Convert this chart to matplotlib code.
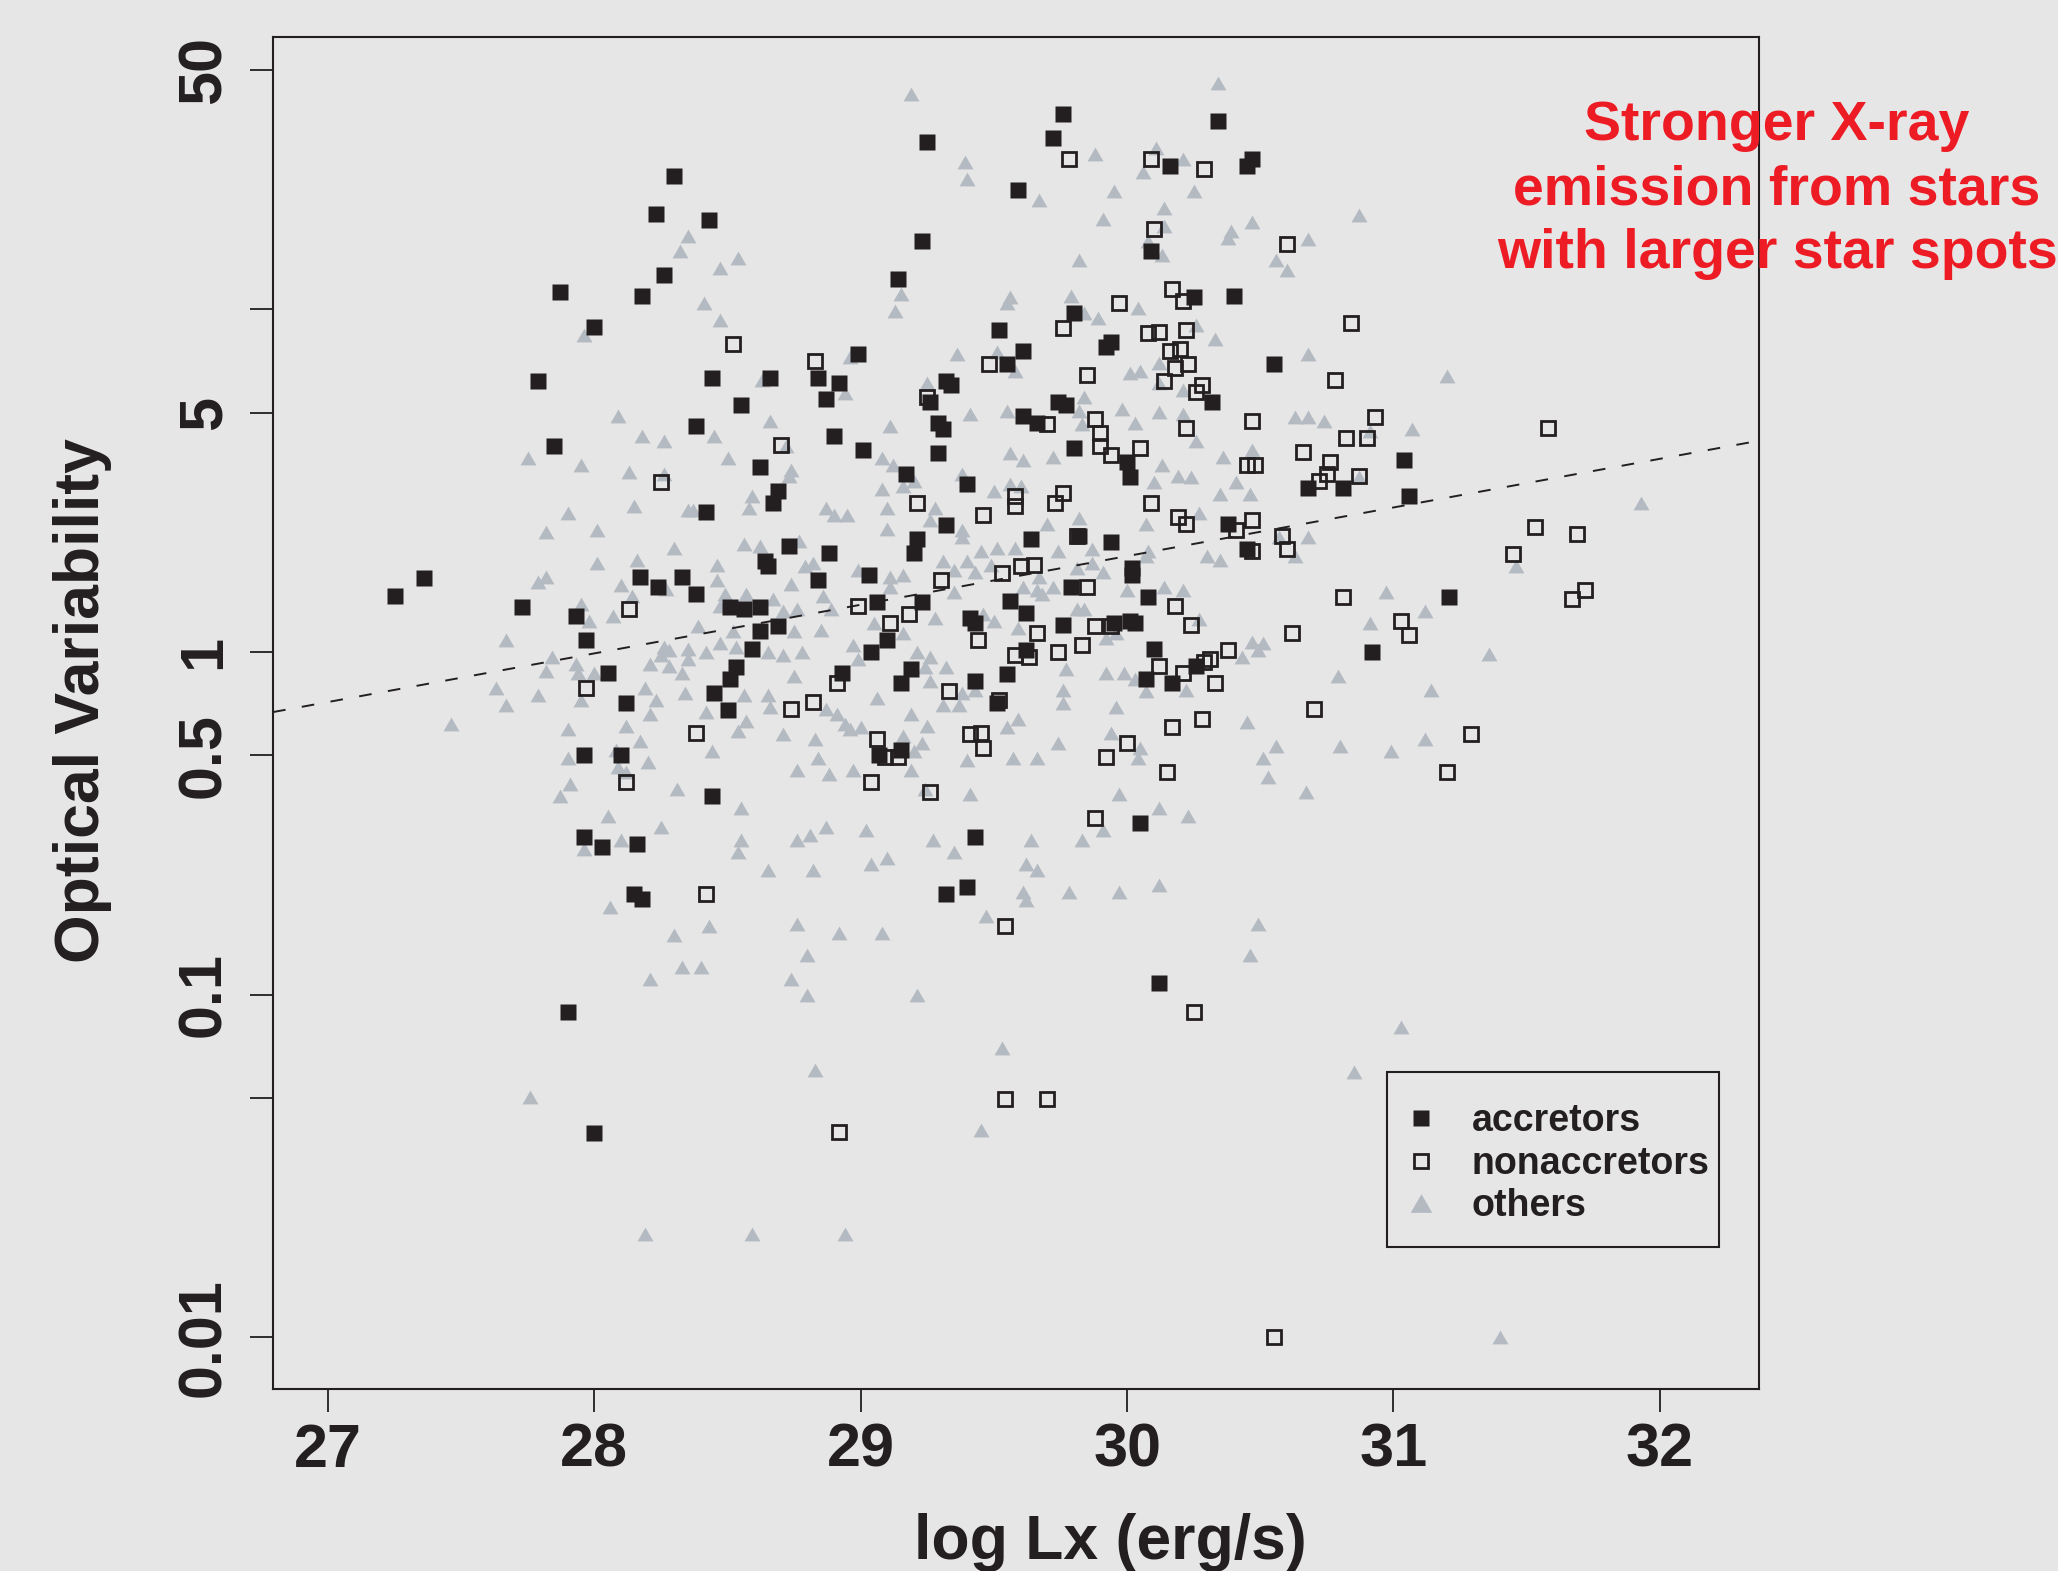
import numpy as np
import matplotlib
matplotlib.use('Agg')
import matplotlib.pyplot as plt
from matplotlib.lines import Line2D
from matplotlib.patches import Rectangle
from matplotlib.ticker import NullLocator

plt.rcParams['font.family'] = ['Liberation Sans', 'DejaVu Sans']
plt.rcParams['font.weight'] = 'bold'

BG = '#e6e6e6'
INK = '#231f20'
GREY = '#b4bac2'
RED = '#ed1c24'

# points as (log Lx, log10 of optical variability)
accretors = [
    (28.30, 1.39), (28.23, 1.28), (28.43, 1.26), (28.26, 1.10), (27.87, 1.05), (28.18, 1.04),
    (28.00, 0.95), (27.79, 0.79), (28.44, 0.80), (28.55, 0.72), (28.38, 0.66), (27.85, 0.60),
    (28.62, 0.54), (28.66, 0.80), (28.69, 0.47), (28.67, 0.435),
    (29.76, 1.57), (29.72, 1.50), (29.25, 1.49), (30.34, 1.55), (30.47, 1.44), (30.45, 1.42),
    (30.16, 1.42), (29.59, 1.35), (29.23, 1.20), (30.09, 1.17), (29.14, 1.09), (30.25, 1.035),
    (30.40, 1.04), (29.80, 0.99), (29.52, 0.94), (29.61, 0.88), (29.94, 0.905), (29.92, 0.89),
    (28.99, 0.87), (29.55, 0.84), (30.55, 0.84), (28.84, 0.80), (28.92, 0.785), (28.87, 0.74),
    (29.32, 0.79), (29.34, 0.78), (29.26, 0.73), (29.29, 0.67), (29.31, 0.65), (29.74, 0.73),
    (29.77, 0.72), (29.61, 0.69), (29.66, 0.67), (28.90, 0.63), (29.01, 0.59), (29.29, 0.58),
    (29.17, 0.52), (29.40, 0.49), (29.80, 0.595), (30.00, 0.555), (30.01, 0.51), (30.32, 0.73),
    (31.04, 0.56), (30.68, 0.48), (30.81, 0.48), (31.06, 0.455), (31.21, 0.16), (30.92, 0.00),
    (27.36, 0.215), (27.25, 0.165), (27.73, 0.13), (27.93, 0.105), (27.97, 0.035), (28.17, 0.22),
    (28.24, 0.19), (28.33, 0.22), (28.38, 0.17), (28.42, 0.41), (28.51, 0.13), (28.56, 0.127),
    (28.62, 0.13), (28.64, 0.265), (28.65, 0.25), (28.62, 0.06), (28.59, 0.01), (28.53, -0.045),
    (28.51, -0.08), (28.45, -0.12), (28.50, -0.17), (28.05, -0.06), (28.12, -0.15), (28.10, -0.30),
    (27.96, -0.30), (28.44, -0.42), (27.96, -0.54), (28.03, -0.57), (28.16, -0.56), (28.15, -0.705),
    (28.18, -0.72),
    (28.73, 0.31), (28.88, 0.29), (28.84, 0.21), (29.03, 0.225), (28.69, 0.075), (29.32, 0.37),
    (29.21, 0.33), (29.20, 0.29), (29.06, 0.145), (29.23, 0.145), (29.10, 0.035), (29.04, 0.00),
    (28.93, -0.06), (29.19, -0.05), (29.15, -0.09), (29.41, 0.10), (29.43, 0.085), (29.56, 0.15),
    (29.62, 0.115), (29.64, 0.33), (29.82, 0.34), (29.94, 0.32), (29.79, 0.19), (29.76, 0.08),
    (30.02, 0.245), (30.02, 0.225), (30.08, 0.16), (29.95, 0.085), (30.01, 0.09), (30.03, 0.085),
    (29.62, 0.005), (29.55, -0.065), (29.43, -0.085), (29.51, -0.15), (30.10, 0.01), (30.07, -0.08),
    (30.17, -0.09), (30.26, -0.04), (30.38, 0.375), (30.45, 0.30), (29.07, -0.30), (29.15, -0.285),
    (29.43, -0.54), (30.05, -0.50), (29.32, -0.705), (29.40, -0.685),
    (27.90, -1.05), (28.00, -1.405), (30.12, -0.965),
]

nonaccretors = [
    (28.52, 0.90), (28.25, 0.495),
    (29.78, 1.44), (30.09, 1.44), (30.29, 1.41), (30.10, 1.235), (30.17, 1.06), (30.21, 1.025),
    (29.97, 1.02), (29.76, 0.945), (30.08, 0.93), (30.12, 0.935), (30.22, 0.94), (30.16, 0.88),
    (30.20, 0.885), (30.18, 0.83), (30.23, 0.84), (30.14, 0.79), (30.28, 0.78), (30.26, 0.76),
    (28.83, 0.85), (29.48, 0.84), (29.85, 0.81), (29.25, 0.745), (29.70, 0.665), (29.88, 0.68),
    (29.90, 0.64), (29.90, 0.60), (29.94, 0.575), (30.05, 0.595), (30.22, 0.655), (30.47, 0.675),
    (30.45, 0.545), (30.48, 0.545), (28.70, 0.605),
    (30.60, 1.19), (30.84, 0.96), (30.78, 0.795), (30.93, 0.685), (30.82, 0.625), (30.90, 0.625),
    (30.66, 0.585), (30.76, 0.555), (30.75, 0.52), (30.72, 0.50), (30.87, 0.515), (31.58, 0.655),
    (30.58, 0.34), (30.60, 0.30), (31.53, 0.365), (31.69, 0.345), (31.45, 0.285), (31.72, 0.18),
    (31.67, 0.155), (30.81, 0.16), (31.03, 0.09), (31.06, 0.05), (30.62, 0.055), (30.70, -0.165),
    (31.29, -0.24), (31.20, -0.35),
    (28.13, 0.125), (27.97, -0.105), (28.38, -0.235), (28.12, -0.38), (28.42, -0.705),
    (29.21, 0.435), (29.46, 0.40), (29.58, 0.455), (29.58, 0.425), (29.76, 0.465), (29.73, 0.435),
    (30.09, 0.435), (30.19, 0.395), (30.22, 0.375), (30.47, 0.385), (30.41, 0.355), (30.47, 0.295),
    (29.81, 0.34), (29.30, 0.21), (29.53, 0.23), (29.60, 0.25), (29.65, 0.255), (29.85, 0.19),
    (28.99, 0.135), (29.11, 0.085), (29.18, 0.11), (29.44, 0.035), (29.66, 0.055), (29.58, -0.01),
    (29.63, -0.015), (29.74, 0.00), (29.83, 0.02), (29.88, 0.075), (29.94, 0.075), (30.18, 0.135),
    (30.24, 0.08), (30.12, -0.04), (30.21, -0.06), (30.29, -0.03), (30.31, -0.02), (30.38, 0.005),
    (30.33, -0.09), (28.91, -0.09), (28.74, -0.165), (28.82, -0.145), (29.33, -0.115), (29.52, -0.14),
    (29.41, -0.24), (29.45, -0.235), (29.46, -0.28), (29.06, -0.255), (29.09, -0.305), (29.14, -0.305),
    (29.04, -0.38), (29.26, -0.41), (30.17, -0.22), (30.28, -0.195), (30.00, -0.265), (29.92, -0.305),
    (30.15, -0.35), (29.88, -0.485), (29.54, -0.80),
    (30.25, -1.05), (29.54, -1.305), (29.70, -1.305), (28.92, -1.40), (30.55, -2.00),
]

others = [
    (28.35, 1.215), (28.32, 1.17), (28.54, 1.15), (28.47, 1.12), (28.41, 1.02), (28.47, 0.97),
    (27.96, 0.925), (28.09, 0.69), (28.18, 0.63), (28.26, 0.615), (28.45, 0.63), (28.50, 0.565),
    (27.75, 0.565), (27.95, 0.545), (28.13, 0.525), (28.26, 0.52), (28.63, 0.795), (28.66, 0.675),
    (28.59, 0.455),
    (29.19, 1.63), (30.34, 1.66), (29.39, 1.43), (29.40, 1.38), (29.67, 1.32), (29.88, 1.455),
    (30.11, 1.47), (30.21, 1.44), (30.06, 1.40), (29.95, 1.345), (30.25, 1.345), (30.14, 1.295),
    (29.91, 1.265), (30.14, 1.245), (30.39, 1.23), (30.38, 1.21), (30.47, 1.255), (30.08, 1.20),
    (30.13, 1.16), (29.82, 1.145), (29.15, 1.045), (29.13, 0.995), (29.56, 1.035), (29.55, 1.02),
    (29.79, 1.04), (29.84, 0.99), (29.89, 0.975), (30.04, 1.005), (30.26, 0.955), (30.33, 0.915),
    (30.12, 0.845), (30.01, 0.815), (30.05, 0.82), (30.12, 0.785), (30.21, 0.765), (29.36, 0.87),
    (29.51, 0.875), (29.58, 0.82), (28.96, 0.86), (28.94, 0.755), (29.25, 0.785), (29.11, 0.66),
    (29.41, 0.695), (29.55, 0.705), (29.84, 0.745), (29.82, 0.705), (29.83, 0.665), (29.98, 0.71),
    (30.03, 0.67), (30.12, 0.70), (30.21, 0.695), (30.26, 0.615), (30.36, 0.57), (30.47, 0.59),
    (28.72, 0.60), (28.74, 0.53), (28.73, 0.515), (29.08, 0.565), (29.12, 0.545), (29.20, 0.50),
    (29.56, 0.58), (29.61, 0.56), (29.72, 0.57), (30.13, 0.545), (30.19, 0.515), (30.24, 0.51),
    (30.10, 0.495), (30.41, 0.495), (30.46, 0.46), (29.38, 0.52), (29.08, 0.475), (29.16, 0.485),
    (29.50, 0.47), (29.56, 0.49), (29.60, 0.485), (30.35, 0.46),
    (30.87, 1.275), (30.68, 1.205), (30.56, 1.145), (30.60, 1.115), (30.68, 0.87), (31.20, 0.805),
    (30.63, 0.685), (30.68, 0.685), (30.74, 0.675), (30.91, 0.645), (31.07, 0.65), (30.87, 0.51),
    (31.93, 0.435), (30.68, 0.335), (30.63, 0.28), (30.57, 0.335), (31.46, 0.25), (30.97, 0.175),
    (31.12, 0.12), (30.91, 0.085), (31.36, -0.005), (30.79, -0.07), (31.14, -0.11), (30.56, -0.275),
    (30.80, -0.275), (30.99, -0.29), (31.12, -0.255), (30.67, -0.41),
    (27.90, 0.405), (28.15, 0.425), (27.82, 0.35), (28.01, 0.355), (28.35, 0.415), (28.37, 0.415),
    (28.58, 0.42), (28.30, 0.305), (28.16, 0.27), (28.01, 0.26), (28.46, 0.255), (28.56, 0.315),
    (28.62, 0.31), (27.79, 0.205), (27.82, 0.22), (28.10, 0.195), (28.27, 0.185), (28.46, 0.21),
    (28.49, 0.17), (28.57, 0.17), (28.47, 0.135), (28.67, 0.155), (27.95, 0.14), (27.98, 0.09),
    (28.07, 0.105), (28.14, 0.165), (28.39, 0.075), (28.52, 0.06), (27.67, 0.035), (27.84, -0.015),
    (27.93, -0.035), (28.26, 0.015), (28.28, 0.005), (28.25, -0.01), (28.35, 0.01), (28.35, -0.02),
    (28.42, 0.00), (28.47, 0.025), (28.53, 0.015), (28.65, 0.00), (28.21, -0.035), (28.28, -0.04),
    (28.33, -0.06), (27.82, -0.055), (27.94, -0.06), (28.00, -0.06), (27.63, -0.105), (27.79, -0.125),
    (27.67, -0.155), (27.95, -0.14), (28.19, -0.105), (28.23, -0.14), (28.34, -0.12), (28.56, -0.125),
    (28.65, -0.125), (28.66, -0.16), (28.21, -0.18), (28.42, -0.175), (28.57, -0.20), (28.54, -0.23),
    (27.46, -0.21), (27.90, -0.225), (28.12, -0.215), (28.17, -0.26), (28.08, -0.285), (27.90, -0.31),
    (28.20, -0.32), (28.09, -0.335), (28.12, -0.35), (28.44, -0.29), (27.91, -0.385), (27.87, -0.42),
    (28.31, -0.40), (28.55, -0.455), (28.05, -0.48), (28.25, -0.51), (28.10, -0.55), (27.96, -0.575),
    (28.55, -0.55), (28.54, -0.585), (28.65, -0.635), (28.06, -0.745), (28.43, -0.80), (28.30, -0.825),
    (28.87, 0.42), (28.90, 0.40), (28.95, 0.40), (29.10, 0.42), (29.10, 0.36), (29.26, 0.385),
    (29.28, 0.42), (29.38, 0.355), (29.38, 0.335), (30.27, 0.405), (30.07, 0.375), (29.70, 0.375),
    (29.82, 0.39), (29.87, 0.30), (29.74, 0.295), (29.94, 0.325), (30.08, 0.295), (30.30, 0.28),
    (30.35, 0.27), (28.77, 0.325), (28.79, 0.25), (28.82, 0.26), (28.74, 0.20), (28.86, 0.165),
    (28.89, 0.125), (28.76, 0.125), (28.71, 0.12), (28.85, 0.065), (28.75, 0.06), (28.71, -0.01),
    (28.78, 0.00), (28.99, 0.24), (29.11, 0.22), (29.16, 0.225), (29.11, 0.19), (29.31, 0.265),
    (29.35, 0.24), (29.40, 0.265), (29.43, 0.235), (29.35, 0.175), (29.45, 0.295), (29.51, 0.305),
    (29.49, 0.255), (29.58, 0.305), (29.67, 0.22), (29.66, 0.18), (29.72, 0.19), (29.68, 0.17),
    (29.61, 0.19), (29.81, 0.245), (29.91, 0.235), (29.87, 0.26), (30.00, 0.18), (30.14, 0.19),
    (30.21, 0.18), (30.07, 0.28), (29.05, 0.085), (29.16, 0.055), (29.28, 0.10), (29.50, 0.09),
    (29.46, 0.11), (29.59, 0.07), (29.81, 0.125), (29.84, 0.125), (29.92, 0.04), (29.96, 0.055),
    (30.27, 0.095), (28.97, 0.02), (28.99, -0.02), (29.21, 0.00), (29.26, -0.015), (29.24, -0.045),
    (29.32, -0.045), (29.26, -0.085), (29.38, -0.12), (29.31, -0.155), (29.37, -0.155), (29.43, -0.11),
    (29.77, -0.05), (29.76, -0.11), (29.76, -0.15), (29.92, -0.06), (29.99, -0.06), (30.03, -0.08),
    (30.07, -0.115), (30.22, -0.11), (30.43, -0.015), (30.47, 0.03), (30.51, 0.025), (30.49, 0.005),
    (29.96, -0.16), (29.06, -0.135), (28.75, -0.07), (28.87, -0.165), (28.91, -0.18), (28.94, -0.21),
    (28.96, -0.225), (29.00, -0.22), (28.71, -0.24), (28.83, -0.255), (28.84, -0.31), (28.76, -0.345),
    (28.88, -0.355), (28.97, -0.345), (29.19, -0.18), (29.25, -0.215), (29.23, -0.265), (29.16, -0.245),
    (29.20, -0.29), (29.19, -0.345), (29.40, -0.315), (29.55, -0.22), (29.59, -0.195), (29.57, -0.31),
    (29.66, -0.31), (29.74, -0.265), (29.94, -0.235), (30.05, -0.28), (30.04, -0.31), (30.45, -0.205),
    (30.51, -0.31), (30.53, -0.365), (29.24, -0.40), (29.41, -0.415), (29.97, -0.415), (30.12, -0.455),
    (30.23, -0.48), (29.91, -0.52), (28.87, -0.51), (28.81, -0.535), (28.76, -0.55), (29.02, -0.52),
    (29.04, -0.62), (29.10, -0.60), (28.82, -0.635), (29.27, -0.55), (29.35, -0.585), (29.64, -0.55),
    (29.83, -0.55), (29.62, -0.62), (29.66, -0.635), (29.61, -0.70), (29.62, -0.725), (29.78, -0.70),
    (29.97, -0.70), (30.12, -0.68), (29.47, -0.77), (28.76, -0.795), (28.92, -0.82), (29.08, -0.82),
    (30.49, -0.795),
    (30.46, -0.885), (28.80, -0.885), (28.33, -0.92), (28.40, -0.92), (28.21, -0.955), (28.74, -0.955),
    (28.80, -1.00), (29.21, -1.00), (29.53, -1.155), (28.83, -1.22), (27.76, -1.30), (29.45, -1.395),
    (28.19, -1.70), (28.59, -1.70), (28.94, -1.70),
    (31.03, -1.095), (30.85, -1.225), (31.40, -2.00),
]

# dashed regression line: log10(var) = intercept + slope * logLx
fit_intercept = -3.98
fit_slope = 0.142

x_lim = (26.794, 32.372)
y_lim = (0.00706, 62.4)
xtick_vals = [27, 28, 29, 30, 31, 32]
ytick_vals = [0.01, 0.05, 0.1, 0.5, 1, 5, 10, 50]
ytick_labels = ['0.01', '', '0.1', '0.5', '1', '5', '', '50']
legend_labels = ['accretors', 'nonaccretors', 'others']

TRI = [(-1, -0.866), (1, -0.866), (0, 0.866)]

fig = plt.figure(figsize=(20.58, 15.71), dpi=100, facecolor=BG)
ax = fig.add_axes([0.1327, 0.1159, 0.7220, 0.8605])
ax.set_facecolor(BG)

oth = np.array(others)
acc = np.array(accretors)
non = np.array(nonaccretors)

ax.plot(oth[:, 0], 10 ** oth[:, 1], ls='none', marker=TRI, ms=11.5, mfc=GREY, mec='none', zorder=2)
ax.plot(acc[:, 0], 10 ** acc[:, 1], ls='none', marker='s', ms=12, mfc=INK, mec='none', zorder=3)
ax.plot(non[:, 0], 10 ** non[:, 1], ls='none', marker='s', ms=10.3, mfc='none', mec=INK, mew=2,
        zorder=4)

xl = np.array(x_lim)
ax.plot(xl, 10 ** (fit_intercept + fit_slope * xl), color=INK, lw=1.4, ls=(0, (6.5, 8.5)), zorder=5)

ax.set_yscale('log')
ax.set_xlim(*x_lim)
ax.set_ylim(*y_lim)
ax.set_xticks(xtick_vals)
ax.set_xticklabels([str(v) for v in xtick_vals])
ax.set_yticks(ytick_vals)
ax.set_yticklabels(ytick_labels, rotation=90, va='center')
ax.yaxis.set_minor_locator(NullLocator())
ax.xaxis.set_minor_locator(NullLocator())
ax.tick_params(axis='both', direction='out', length=16.5, width=1.3, color=INK, labelcolor=INK)
ax.tick_params(axis='x', labelsize=44, pad=8)
ax.tick_params(axis='y', labelsize=44, pad=12)
for sp in ax.spines.values():
    sp.set_linewidth(1.5)
    sp.set_color(INK)

# legend entries without frame, box drawn separately (R-style tight right margin)
handles = [
    Line2D([], [], ls='none', marker='s', ms=12, mfc=INK, mec='none'),
    Line2D([], [], ls='none', marker='s', ms=10.3, mfc='none', mec=INK, mew=2),
    Line2D([], [], ls='none', marker=TRI, ms=15.5, mfc=GREY, mec='none'),
]
leg = ax.legend(handles, legend_labels, loc='upper left', bbox_to_anchor=(0.750, 0.2326),
                frameon=False, fontsize=27, borderpad=0.76, labelspacing=0.18,
                handlelength=0.24, handletextpad=1.24, borderaxespad=0)
for t in leg.get_texts():
    t.set_color(INK)
ax.add_patch(Rectangle((0.7499, 0.1051), 0.2234, 0.1292, transform=ax.transAxes,
                       fill=False, edgecolor=INK, lw=1.5, zorder=6))

fig.text(0.5394, 0.018, 'log Lx (erg/s)', ha='center', va='center', fontsize=45, color=INK)
fig.text(0.0403, 0.5538, 'Optical Variability', rotation=90, ha='center', va='center',
         fontsize=45, color=INK)
fig.text(0.8635, 0.879, 'Stronger X-ray\nemission from stars\nwith larger star spots',
         ha='center', va='center', fontsize=40, color=RED, linespacing=1.29)

fig.savefig('out.png', dpi=100, facecolor=BG)
